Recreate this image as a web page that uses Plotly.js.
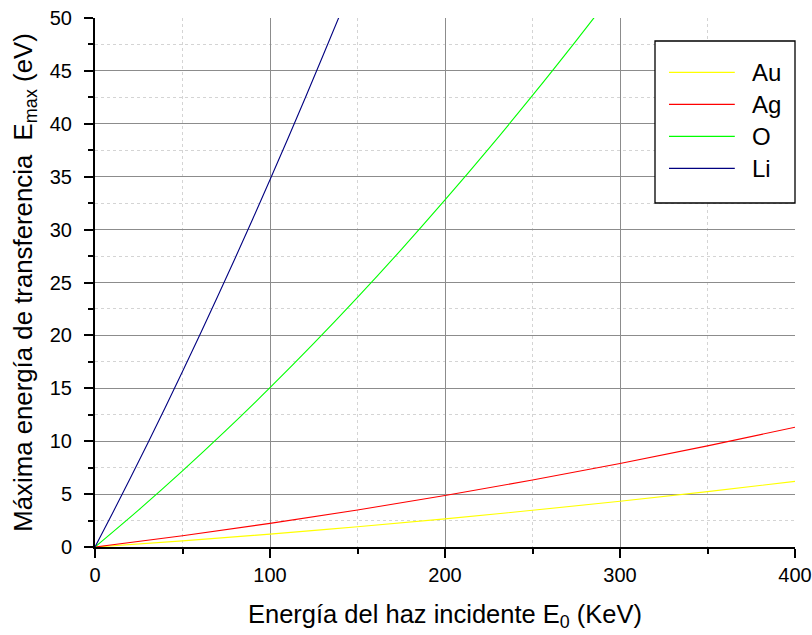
<!DOCTYPE html>
<html>
<head>
<meta charset="utf-8">
<script src="https://cdn.plot.ly/plotly-3.0.1.min.js"></script>
<style>html,body{margin:0;padding:0;background:#fff;}#chart{width:812px;height:635px;}</style>
</head>
<body>
<div id="chart"></div>
<script>
// Energy of incident beam (keV) and max transferred energy (eV)
const xAu = [0, 50, 100, 150, 200, 250, 300, 350, 400];
const yAu = [0, 0.58, 1.22, 1.92, 2.66, 3.47, 4.32, 5.23, 6.20];
const xAg = [0, 50, 100, 150, 200, 250, 300, 350, 400];
const yAg = [0, 1.07, 2.23, 3.50, 4.87, 6.33, 7.89, 9.56, 11.32];
const xO = [0, 25, 50, 75, 100, 125, 150, 175, 200, 225, 250, 275, 285, 290];
const yO = [0, 3.51, 7.19, 11.04, 15.06, 19.24, 23.59, 28.11, 32.80, 37.65, 42.68, 47.87, 49.99, 51.07];
const xLi = [0, 10, 20, 30, 40, 50, 60, 70, 80, 90, 100, 110, 120, 130, 140];
const yLi = [0, 3.19, 6.45, 9.76, 13.14, 16.58, 20.08, 23.65, 27.27, 30.96, 34.71, 38.52, 42.39, 46.33, 50.32];
const names = ["Au", "Ag", "O", "Li"];
const colors = ["#ffff00", "#ff0000", "#00ff00", "#000080"];
const xTicks = [0, 100, 200, 300, 400];

const xs = [xAu, xAg, xO, xLi];
const ys = [yAu, yAg, yO, yLi];
const traces = names.map((n, i) => ({
  x: xs[i], y: ys[i], name: n, type: "scatter", mode: "lines",
  line: {color: colors[i], width: 1.1, shape: "spline"}, showlegend: false
}));

// Legend drawn in paper coordinates (box, sample lines, labels)
const legY = [0.8974, 0.8369, 0.7764, 0.7159];
const shapes = [{type: "rect", xref: "paper", yref: "paper", x0: 0.8, x1: 1.0, y0: 0.6503, y1: 0.9565,
                 line: {color: "#000", width: 1.3}, fillcolor: "#fff", layer: "above"}];
const annotations = [];
names.forEach((n, i) => {
  shapes.push({type: "line", xref: "paper", yref: "paper", x0: 0.82, x1: 0.914, y0: legY[i], y1: legY[i],
               line: {color: colors[i], width: 1.3}, layer: "above"});
  annotations.push({xref: "paper", yref: "paper", x: 0.9357, y: legY[i], xanchor: "left", yanchor: "middle",
                    text: n, showarrow: false, font: {size: 24, color: "#000"}});
});

const layout = {
  width: 812, height: 635,
  margin: {l: 95, r: 17, t: 18, b: 88},
  paper_bgcolor: "#fff", plot_bgcolor: "#fff",
  font: {family: "Liberation Sans, Arial, sans-serif", color: "#000"},
  showlegend: false,
  shapes: shapes,
  annotations: annotations,
  xaxis: {
    range: [0, 400], tickvals: xTicks,
    showline: true, linecolor: "#000", linewidth: 2,
    ticks: "outside", ticklen: 9, tickwidth: 2, tickcolor: "#000",
    tickfont: {size: 20},
    showgrid: true, gridcolor: "#8c8c8c", gridwidth: 1,
    zeroline: false,
    minor: {dtick: 50, ticks: "outside", ticklen: 5, tickwidth: 2, tickcolor: "#000",
            showgrid: true, gridcolor: "#d4d4d4", gridwidth: 1, griddash: "dot"},
    title: {text: "Energía del haz incidente E<sub>0</sub> (KeV)", font: {size: 25.5}, standoff: 20}
  },
  yaxis: {
    range: [0, 50], dtick: 5,
    showline: true, linecolor: "#000", linewidth: 2,
    ticks: "outside", ticklen: 9, tickwidth: 2, tickcolor: "#000",
    tickfont: {size: 20}, ticklabelstandoff: 8,
    showgrid: true, gridcolor: "#8c8c8c", gridwidth: 1,
    zeroline: false,
    minor: {dtick: 2.5, ticks: "outside", ticklen: 5, tickwidth: 2, tickcolor: "#000",
            showgrid: true, gridcolor: "#d4d4d4", gridwidth: 1, griddash: "dot"},
    title: {text: "Máxima energía de transferencia  E<sub>max</sub> (eV)", font: {size: 25.8}, standoff: 10}
  }
};

Plotly.newPlot("chart", traces, layout, {displayModeBar: false, staticPlot: true});
</script>
</body>
</html>
